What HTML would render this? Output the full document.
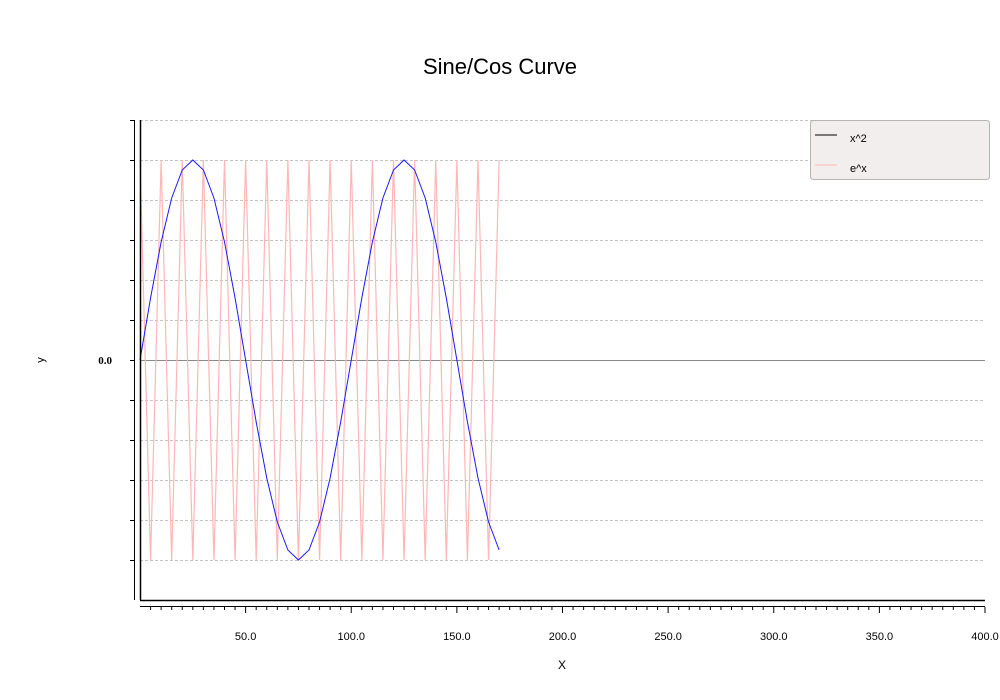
<!DOCTYPE html>
<html><head><meta charset="utf-8"><style>
body{margin:0;background:#fff;}
svg{display:block;font-family:"Liberation Sans",sans-serif;}
</style></head><body>
<svg id="chart" width="1000" height="700">
<text x="500" y="74" font-size="22" text-anchor="middle">Sine/Cos Curve</text>
<g id="grid"></g>
<g id="series"></g>
<g id="axes"></g>
<text x="44" y="360" font-size="11" text-anchor="middle" transform="rotate(-90 44 360)">y</text>
<text x="562" y="669" font-size="12" text-anchor="middle">X</text>
<g>
<rect x="810.5" y="120.5" width="179" height="59" rx="3" fill="#f3eeee" stroke="#b4b4b4"/>
<line x1="815" y1="135" x2="837" y2="135" stroke="#000"/>
<text x="850" y="142" font-size="11">x^2</text>
<line x1="815" y1="165" x2="837" y2="165" stroke="#ffb6b6"/>
<text x="850" y="172" font-size="11">e^x</text>
</g>
</svg>
<script>
const blueX=[0,5,10,15,20,25,30,35,40,45,50,55,60,65,70,75,80,85,90,95,100,105,110,115,120,125,130,135,140,145,150,155,160,165,170];
const blueY=[0,0.31,0.59,0.81,0.95,1,0.95,0.81,0.59,0.31,0,-0.31,-0.59,-0.81,-0.95,-1,-0.95,-0.81,-0.59,-0.31,0,0.31,0.59,0.81,0.95,1,0.95,0.81,0.59,0.31,0,-0.31,-0.59,-0.81,-0.95];
const pinkX=[0,5,10,15,20,25,30,35,40,45,50,55,60,65,70,75,80,85,90,95,100,105,110,115,120,125,130,135,140,145,150,155,160,165,170];
const pinkY=[1,-1,1,-1,1,-1,1,-1,1,-1,1,-1,1,-1,1,-1,1,-1,1,-1,1,-1,1,-1,1,-1,1,-1,1,-1,1,-1,1,-1,1];
const xTicks=[50,100,150,200,250,300,350,400];
const yGrid=[1.2,1,0.8,0.6,0.4,0.2,0,-0.2,-0.4,-0.6,-0.8,-1];
const NS='http://www.w3.org/2000/svg';
const X0=140,X1=985,Y0=600,Y1=120;
const sx=v=>X0+(v/400)*(X1-X0);
const sy=v=>360-v*200;
function mk(t,a,p){const e=document.createElementNS(NS,t);for(const k in a)e.setAttribute(k,a[k]);p.appendChild(e);return e;}
const grid=document.getElementById('grid'),ser=document.getElementById('series'),ax=document.getElementById('axes');
yGrid.forEach(v=>{
 const l=mk('line',{x1:X0,x2:X1,y1:sy(v)+0.5,y2:sy(v)+0.5,stroke:v===0?'#888':'#c4c4c4','stroke-dasharray':v===0?'none':'3,2'},grid);
 
 
 const t=mk('line',{x1:130,x2:134,y1:sy(v)+0.5,y2:sy(v)+0.5,stroke:'#000'},ax);
 
 
});
const yl=mk('text',{x:112,y:364,'font-size':11,'font-weight':'bold','text-anchor':'end','font-family':'Liberation Serif,serif'},ax);
yl.textContent='0.0';


mk('line',{x1:134.5,x2:134.5,y1:120,y2:600,stroke:'#000'},ax);
mk('line',{x1:140.5,x2:140.5,y1:120,y2:600,stroke:'#000','stroke-width':1.5},ax);
mk('line',{x1:140,x2:X1,y1:600.5,y2:600.5,stroke:'#000','stroke-width':1.5},ax);
mk('line',{x1:140,x2:X1,y1:606.5,y2:606.5,stroke:'#000'},ax);
for(let v=5;v<=400;v+=5){
 const major=v%50===0;
 const t=mk('line',{x1:sx(v),x2:sx(v),y1:607,y2:major?613:610,stroke:'#000'},ax);
 
 
}
xTicks.forEach(v=>{
 const t=mk('text',{x:sx(v),y:640,'font-size':11,'text-anchor':'middle'},ax);
 t.textContent=v.toFixed(1);
 
 
});
const pp=mk('polyline',{points:pinkX.map((x,i)=>sx(x)+','+sy(pinkY[i])).join(' '),fill:'none',stroke:'#ffb6b6','stroke-width':1.2},ser);


const bp=mk('polyline',{points:blueX.map((x,i)=>sx(x)+','+sy(blueY[i])).join(' '),fill:'none',stroke:'#1a1aff','stroke-width':1},ser);


</script>
</body></html>
